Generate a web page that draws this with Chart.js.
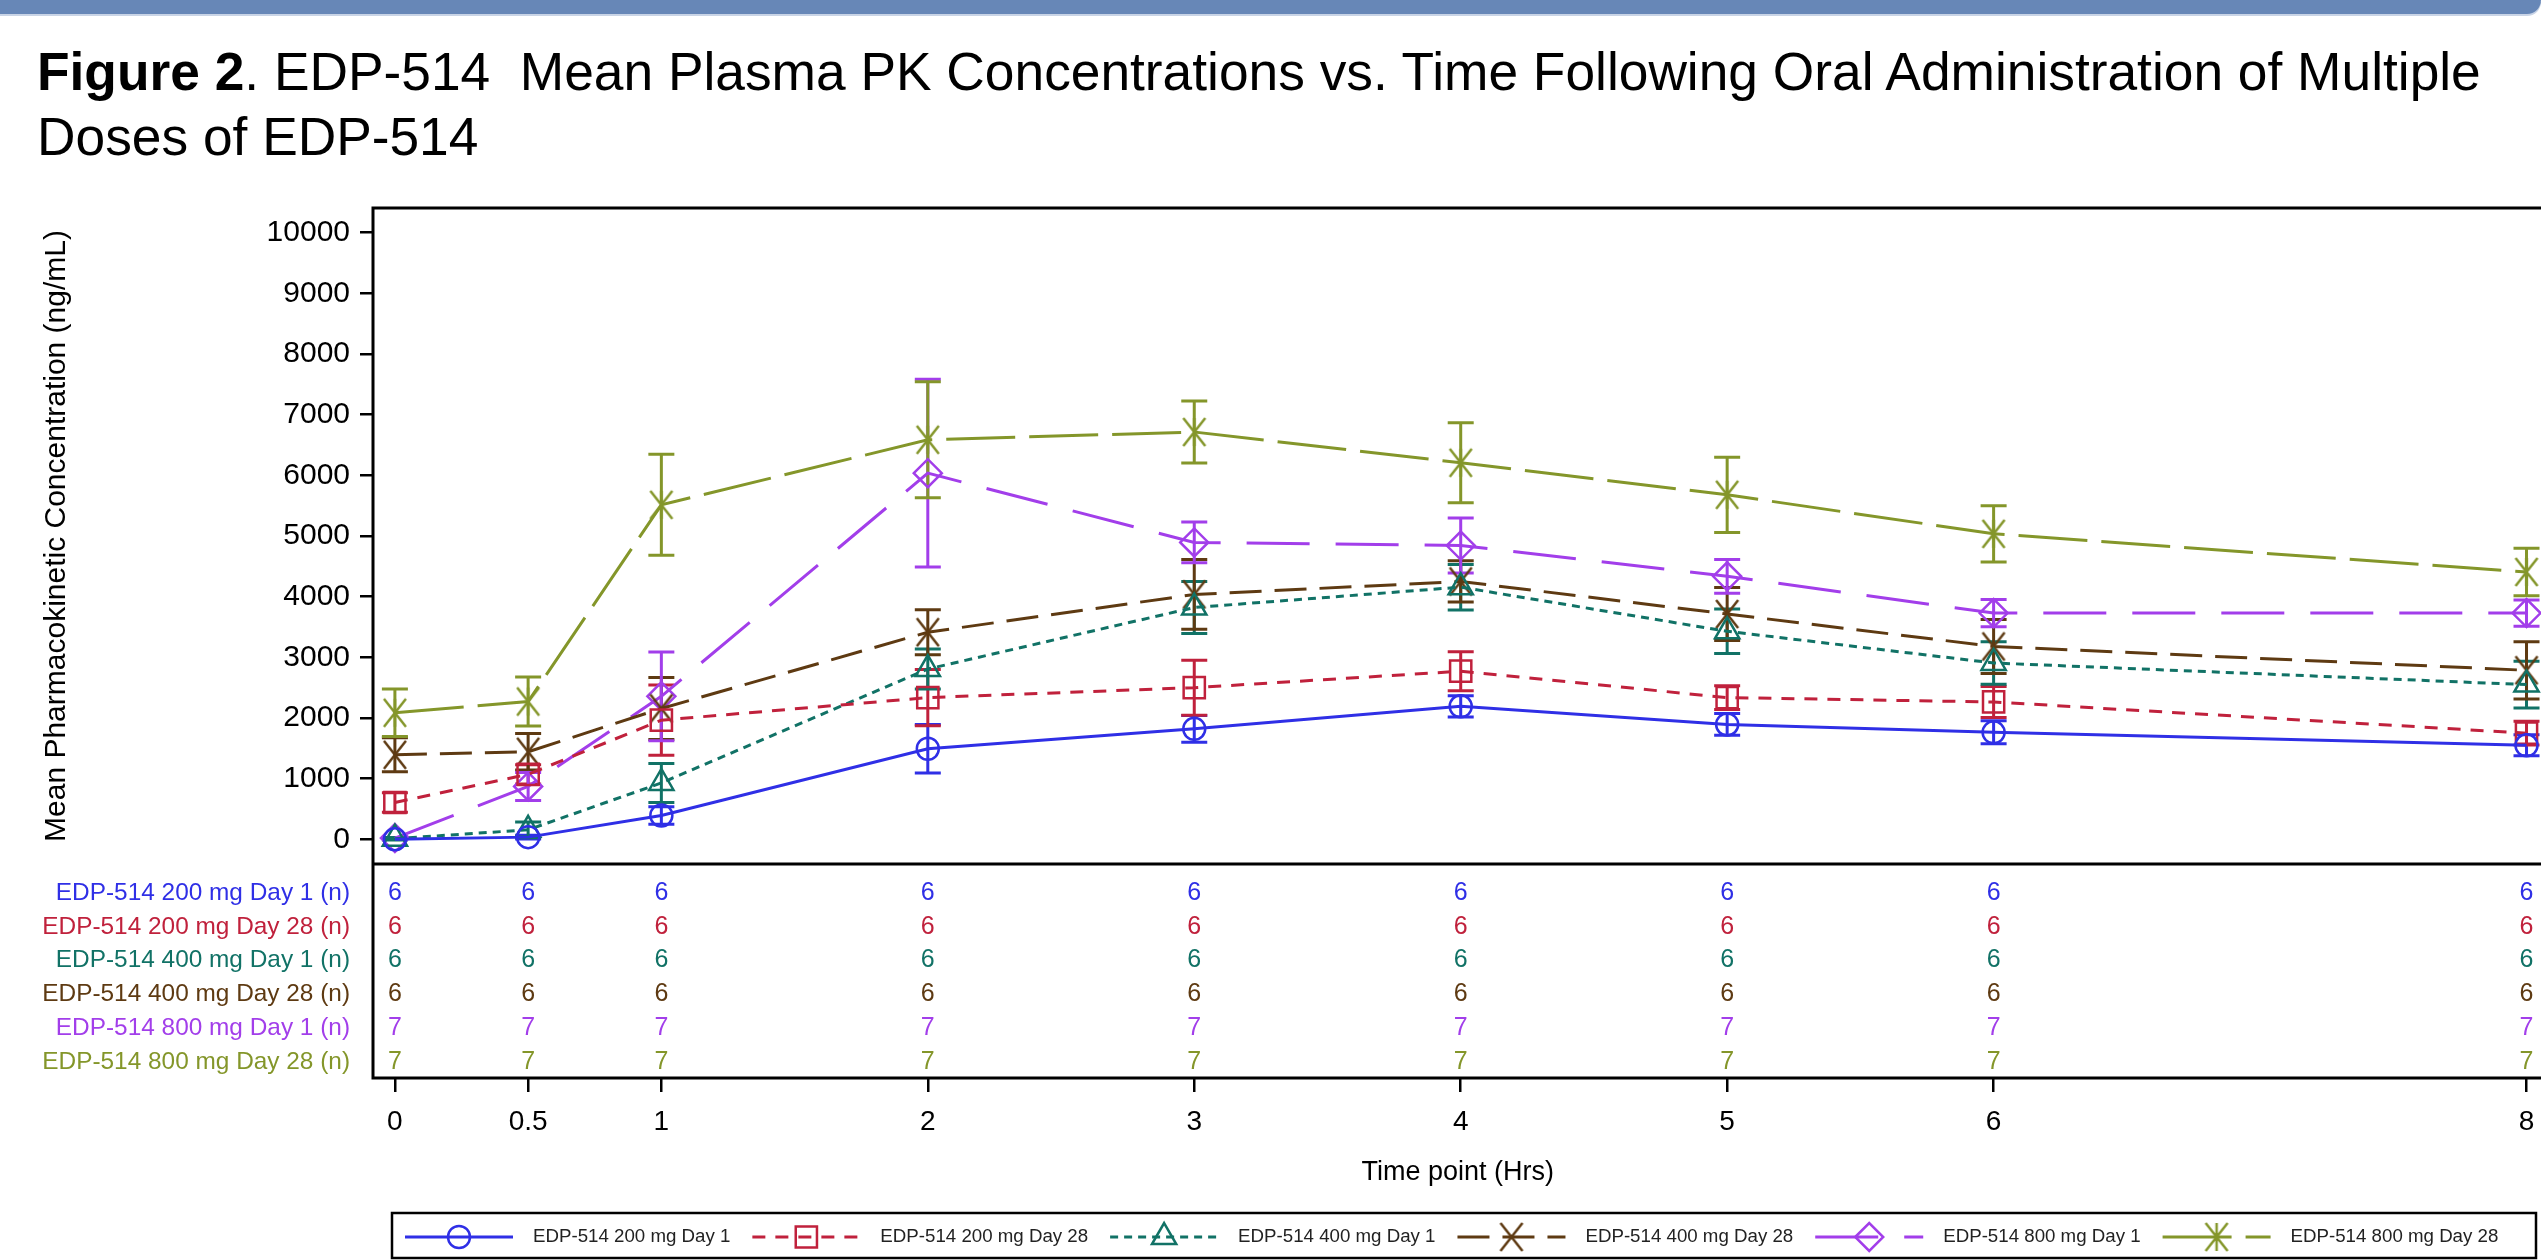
<!DOCTYPE html>
<html>
<head>
<meta charset="utf-8">
<script src="https://cdn.jsdelivr.net/npm/chart.js@4.4.0/dist/chart.umd.min.js"></script>
<style>
  html, body { margin: 0; padding: 0; background: #fff; overflow: hidden; width: 2541px; height: 1260px; }
  #wrap { position: absolute; left: 0; top: 0; width: 2560px; height: 1260px; }
  #bar { position: absolute; left: 0; top: 0; width: 2541px; height: 14px; background: #6787B7; border-bottom-right-radius: 14px; box-shadow: 0 2px 0 #c9d4e6; }
  #title { position: absolute; left: 37px; top: 39px; font-family: "Liberation Sans", Arial, sans-serif; font-size: 53.3px; line-height: 65px; color: #000; white-space: nowrap; }
</style>
</head>
<body>
<div id="wrap"><canvas id="pk"></canvas></div>
<div id="bar"></div>
<div id="title"><b>Figure 2</b>. EDP-514&nbsp; Mean Plasma PK Concentrations vs. Time Following Oral Administration of Multiple<br>Doses of EDP-514</div>
<script>
// time points (hrs) and their tick labels
var times = [0, 0.5, 1, 2, 3, 4, 5, 6, 8];
var timeTickLabels = ['0', '0.5', '1', '2', '3', '4', '5', '6', '8'];
var concTicks = [0, 1000, 2000, 3000, 4000, 5000, 6000, 7000, 8000, 9000, 10000];

var seriesNames = ['EDP-514 200 mg Day 1', 'EDP-514 200 mg Day 28', 'EDP-514 400 mg Day 1',
                   'EDP-514 400 mg Day 28', 'EDP-514 800 mg Day 1', 'EDP-514 800 mg Day 28'];

// mean concentration (ng/mL) and SD
var mean200Day1  = [0, 36, 393, 1493, 1821, 2193, 1893, 1764, 1550];
var sd200Day1    = [0, 30, 143, 400, 221, 175, 179, 189, 172];
var mean200Day28 = [607, 1071, 1964, 2336, 2500, 2771, 2336, 2264, 1750];
var sd200Day28   = [160, 160, 578, 465, 453, 321, 197, 257, 197];
var mean400Day1  = [10, 157, 929, 2807, 3821, 4157, 3429, 2907, 2550];
var sd400Day1    = [20, 130, 321, 330, 430, 375, 368, 350, 385];
var mean400Day28 = [1393, 1443, 2157, 3414, 4036, 4250, 3714, 3179, 2786];
var sd400Day28   = [280, 300, 511, 371, 575, 340, 436, 446, 471];
var mean800Day1  = [20, 871, 2357, 6036, 4893, 4843, 4336, 3729, 3729];
var sd800Day1    = [0, 232, 732, 1546, 336, 453, 278, 225, 215];
var mean800Day28 = [2086, 2271, 5514, 6586, 6714, 6207, 5679, 5036, 4407];
var sd800Day28   = [392, 404, 832, 957, 511, 660, 621, 464, 390];

// number of subjects per time point
var n200Day1  = [6, 6, 6, 6, 6, 6, 6, 6, 6];
var n200Day28 = [6, 6, 6, 6, 6, 6, 6, 6, 6];
var n400Day1  = [6, 6, 6, 6, 6, 6, 6, 6, 6];
var n400Day28 = [6, 6, 6, 6, 6, 6, 6, 6, 6];
var n800Day1  = [7, 7, 7, 7, 7, 7, 7, 7, 7];
var n800Day28 = [7, 7, 7, 7, 7, 7, 7, 7, 7];

var means = [mean200Day1, mean200Day28, mean400Day1, mean400Day28, mean800Day1, mean800Day28];
var sds = [sd200Day1, sd200Day28, sd400Day1, sd400Day28, sd800Day1, sd800Day28];
var counts = [n200Day1, n200Day28, n400Day1, n400Day28, n800Day1, n800Day28];
var rowLabels = seriesNames.map(function(s){ return s + ' (n)'; });

var FONT = '"Liberation Sans", Arial, sans-serif';

// X and asterisk markers as small canvases
function crossMarker(color, withVertical){
    var s = 34, c = document.createElement('canvas');
    c.width = s; c.height = s;
    var g = c.getContext('2d');
    var m = s / 2, dx = 11, dy = 14;
    g.strokeStyle = color;
    g.lineWidth = 2.5;
    g.beginPath();
    g.moveTo(m - dx, m - dy); g.lineTo(m + dx, m + dy);
    g.moveTo(m + dx, m - dy); g.lineTo(m - dx, m + dy);
    if(withVertical){ g.moveTo(m, m - dy); g.lineTo(m, m + dy); }
    g.stroke();
    return c;
}

var styles = [
    {color: '#2F2FE6', dash: [], marker: 'circle', r: 11},
    {color: '#C0213C', dash: [13, 10], marker: 'rect', r: 15},
    {color: '#117266', dash: [8, 6], marker: 'triangle', r: 14},
    {color: '#5E3A12', dash: [32, 13], marker: crossMarker('#5E3A12', false), r: 15},
    {color: '#A23EEA', dash: [63, 26], marker: 'rectRot', r: 14},
    {color: '#84962A', dash: [69, 14], marker: crossMarker('#84962A', true), r: 15}
];

var datasets = seriesNames.map(function(name, i){
    return {
        label: name,
        xAxisID: 'x',
        yAxisID: 'y',
        data: times.map(function(t, j){ return {x: t, y: means[i][j]}; }),
        borderColor: styles[i].color,
        borderWidth: 3,
        borderDash: styles[i].dash,
        pointStyle: styles[i].marker,
        pointRadius: styles[i].r,
        pointBorderWidth: 2.5,
        pointBorderColor: styles[i].color,
        pointBackgroundColor: 'rgba(0,0,0,0)',
        tension: 0,
        fill: false
    };
});

// mean +/- SD bars
var errorBars = {
    id: 'errorBars',
    beforeDatasetsDraw: function(chart){
        var ctx = chart.ctx, xs = chart.scales.x, ys = chart.scales.y;
        ctx.save();
        ctx.lineWidth = 3;
        ctx.setLineDash([]);
        chart.data.datasets.forEach(function(ds, i){
            ctx.strokeStyle = styles[i].color;
            ds.data.forEach(function(p, j){
                var sd = sds[i][j];
                if(!sd) return;
                var px = xs.getPixelForValue(p.x);
                var top = ys.getPixelForValue(p.y + sd);
                var bot = ys.getPixelForValue(p.y - sd);
                ctx.beginPath();
                ctx.moveTo(px, top); ctx.lineTo(px, bot);
                ctx.moveTo(px - 13, top); ctx.lineTo(px + 13, top);
                ctx.moveTo(px - 13, bot); ctx.lineTo(px + 13, bot);
                ctx.stroke();
            });
        });
        ctx.restore();
    }
};

// frame around both panels + the n table
var panels = {
    id: 'panels',
    afterDraw: function(chart){
        var ctx = chart.ctx, xs = chart.scales.x, ys = chart.scales.y, ns = chart.scales.yN;
        var a = chart.chartArea;
        ctx.save();
        ctx.strokeStyle = '#000';
        ctx.lineWidth = 3;
        ctx.setLineDash([]);
        ctx.strokeRect(a.left, a.top, a.right - a.left, a.bottom - a.top);
        ctx.beginPath();
        ctx.moveTo(a.left, ys.bottom); ctx.lineTo(a.right, ys.bottom);
        ctx.stroke();

        ctx.font = '25px ' + FONT;
        ctx.textAlign = 'center';
        ctx.textBaseline = 'middle';
        counts.forEach(function(row, i){
            ctx.fillStyle = styles[i].color;
            row.forEach(function(n, j){
                ctx.fillText(String(n), xs.getPixelForValue(times[j]), ns.getPixelForValue(i));
            });
        });
        ctx.restore();
    }
};

function drawMarker(ctx, st, x, y){
    if(window.Chart && Chart.helpers && Chart.helpers.drawPoint){
        ctx.fillStyle = 'rgba(0,0,0,0)';
        ctx.strokeStyle = st.color;
        ctx.lineWidth = 2.5;
        Chart.helpers.drawPoint(ctx, {pointStyle: st.marker, radius: st.r, borderWidth: 2.5, rotation: 0}, x, y);
    }
}

var legendBox = {
    id: 'legendBox',
    afterDraw: function(chart){
        var ctx = chart.ctx;
        var cy = 1237, x = 405;
        ctx.save();
        ctx.strokeStyle = '#000';
        ctx.lineWidth = 2.5;
        ctx.strokeRect(392, 1213, 2144, 45);
        ctx.font = '18.7px ' + FONT;
        ctx.textBaseline = 'middle';
        ctx.textAlign = 'left';
        seriesNames.forEach(function(name, i){
            var st = styles[i];
            ctx.strokeStyle = st.color;
            ctx.lineWidth = 3;
            ctx.setLineDash(st.dash);
            ctx.beginPath();
            ctx.moveTo(x, cy); ctx.lineTo(x + 108, cy);
            ctx.stroke();
            ctx.setLineDash([]);
            drawMarker(ctx, st, x + 54, cy);
            ctx.fillStyle = '#222';
            ctx.fillText(name, x + 128, cy);
            x += 128 + ctx.measureText(name).width + 22;
        });
        ctx.restore();
    }
};

new Chart(document.getElementById('pk'), {
    type: 'line',
    data: {datasets: datasets},
    plugins: [errorBars, panels, legendBox],
    options: {
        responsive: true,
        maintainAspectRatio: false,
        animation: false,
        events: [],
        layout: {padding: {left: 35, top: 208, right: 9, bottom: 71}},
        plugins: {legend: {display: false}, tooltip: {enabled: false}},
        scales: {
            x: {
                type: 'linear',
                min: -0.0822,
                max: 8.06,
                afterBuildTicks: function(scale){
                    scale.ticks = times.map(function(t){ return {value: t}; });
                },
                border: {display: false},
                grid: {drawOnChartArea: false, drawTicks: true, tickLength: 14, color: '#000', lineWidth: 2.5},
                ticks: {
                    autoSkip: false,
                    maxRotation: 0,
                    padding: 13,
                    color: '#000',
                    font: {family: FONT, size: 28},
                    callback: function(v){ return timeTickLabels[times.indexOf(v)]; }
                },
                title: {display: true, text: 'Time point (Hrs)', color: '#000', font: {family: FONT, size: 27}, padding: {top: 5, bottom: 0}}
            },
            // n table panel (listed first so it sits below the concentration panel)
            yN: {
                type: 'linear',
                position: 'left',
                stack: 'panels',
                stackWeight: 214,
                reverse: true,
                min: -0.858,
                max: 5.473,
                afterBuildTicks: function(scale){
                    scale.ticks = rowLabels.map(function(l, i){ return {value: i}; });
                },
                afterFit: function(scale){ scale.width = 338; },
                border: {display: false},
                grid: {display: false},
                ticks: {
                    autoSkip: false,
                    padding: 15,
                    font: {family: FONT, size: 24.4},
                    color: function(c){ return styles[c.tick.value] ? styles[c.tick.value].color : '#000'; },
                    callback: function(v){ return rowLabels[v]; }
                }
            },
            y: {
                type: 'linear',
                position: 'left',
                stack: 'panels',
                stackWeight: 656,
                min: -407,
                max: 10407,
                afterBuildTicks: function(scale){
                    scale.ticks = concTicks.map(function(v){ return {value: v}; });
                },
                afterFit: function(scale){ scale.width = 338; },
                border: {display: false},
                grid: {drawOnChartArea: false, drawTicks: true, tickLength: 13, color: '#000', lineWidth: 2.5},
                ticks: {
                    autoSkip: false,
                    padding: 10,
                    color: '#000',
                    font: {family: FONT, size: 30},
                    callback: function(v){ return String(v); }
                },
                title: {display: true, text: 'Mean Pharmacokinetic Concentration (ng/mL)', color: '#000', font: {family: FONT, size: 30}, padding: {top: 4, bottom: 0}}
            }
        }
    }
});
</script>
</body>
</html>
